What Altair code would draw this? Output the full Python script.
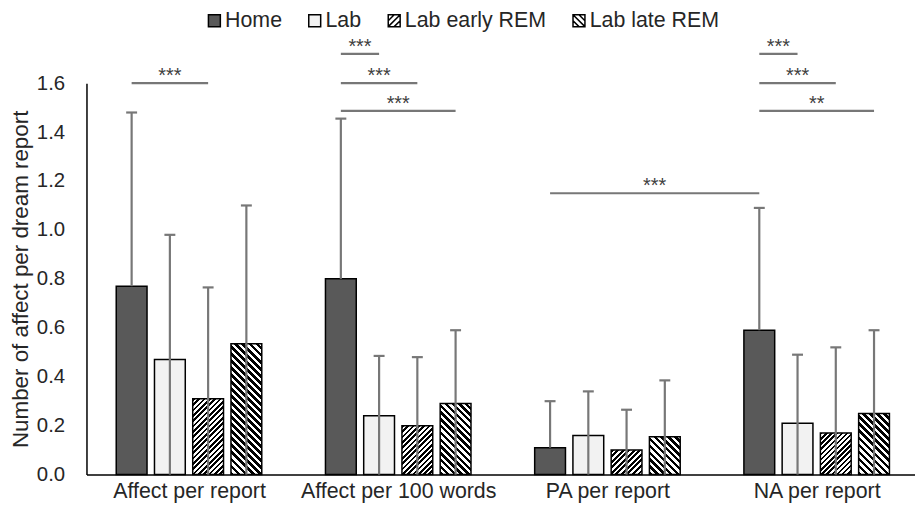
import json
import altair as alt
import pandas as pd

# ---------------- data ----------------
CATEGORIES = ["Affect per report", "Affect per 100 words", "PA per report", "NA per report"]
SERIES = ["Home", "Lab", "Lab early REM", "Lab late REM"]

HOME_MEAN = [0.77, 0.80, 0.11, 0.59]
HOME_SD = [0.71, 0.655, 0.19, 0.50]
LAB_MEAN = [0.47, 0.24, 0.16, 0.21]
LAB_SD = [0.51, 0.245, 0.18, 0.28]
EARLY_MEAN = [0.31, 0.20, 0.10, 0.17]
EARLY_SD = [0.455, 0.28, 0.165, 0.35]
LATE_MEAN = [0.535, 0.29, 0.155, 0.25]
LATE_SD = [0.565, 0.30, 0.23, 0.34]

Y_TICKS = [0.0, 0.2, 0.4, 0.6, 0.8, 1.0, 1.2, 1.4, 1.6]

# significance brackets
SIG_FROM_GROUP = [0, 1, 1, 1, 2, 3, 3, 3]
SIG_FROM_SERIES = [0, 0, 0, 0, 0, 0, 0, 0]
SIG_TO_GROUP = [0, 1, 1, 1, 3, 3, 3, 3]
SIG_TO_SERIES = [2, 1, 2, 3, 0, 1, 2, 3]
SIG_LEVEL = [1.60, 1.72, 1.60, 1.487, 1.15, 1.72, 1.60, 1.487]
SIG_LABEL = ["***", "***", "***", "***", "***", "***", "***", "**"]

# ---------------- layout / style ----------------
PLOT_W = 834
PLOT_H = 394
X_DOMAIN = [-0.49, 3.47]
Y_DOMAIN = [0, 1.6]
PX_PER_UNIT = PLOT_W / (X_DOMAIN[1] - X_DOMAIN[0])
SERIES_STEP = 38.5 / PX_PER_UNIT
BAR_HALF = 15.5 / PX_PER_UNIT
CAP_HALF = 5.5 / PX_PER_UNIT
FONT = "Liberation Sans"
TEXT_COLOR = "#262626"
HOME_FILL = "#595959"
LAB_FILL = "#f2f2f2"
ERR_COLOR = "#777777"

means = [HOME_MEAN, LAB_MEAN, EARLY_MEAN, LATE_MEAN]
sds = [HOME_SD, LAB_SD, EARLY_SD, LATE_SD]

rows = []
for s, name in enumerate(SERIES):
    for g, cat in enumerate(CATEGORIES):
        m = means[s][g]
        sd = sds[s][g]
        c = g + (s - 1.5) * SERIES_STEP
        lower = m if s == 0 else max(0.0, m - sd)
        rows.append({
            "g": g, "s": s, "series": name, "category": cat,
            "mean": m, "lower": lower, "upper": m + sd,
            "xc": c, "xl": c - BAR_HALF, "xr": c + BAR_HALF,
            "cl": c - CAP_HALF, "cr": c + CAP_HALF,
        })
df = pd.DataFrame(rows)


def center(g, s):
    return g + (s - 1.5) * SERIES_STEP


sig_rows = []
for i in range(len(SIG_LEVEL)):
    a = center(SIG_FROM_GROUP[i], SIG_FROM_SERIES[i])
    b = center(SIG_TO_GROUP[i], SIG_TO_SERIES[i])
    sig_rows.append({"x1": a, "x2": b, "xm": (a + b) / 2, "level": SIG_LEVEL[i], "label": SIG_LABEL[i]})
sig = pd.DataFrame(sig_rows)

x_axis = alt.Axis(
    values=[0, 1, 2, 3],
    labelExpr=json.dumps(CATEGORIES) + "[datum.value]",
    ticks=False, grid=False, title=None, domainColor="black", domainWidth=1.5,
    labelFont=FONT, labelFontSize=21.5, labelColor=TEXT_COLOR, labelPadding=6,
    labelFlush=False, labelOverlap=False, labelBound=False, labelLimit=0,
)
y_axis = alt.Axis(
    values=Y_TICKS, format=".1f", ticks=False, tickSize=0, grid=False,
    domainColor="black", domainWidth=1.5,
    labelFont=FONT, labelFontSize=20.5, labelColor=TEXT_COLOR, labelPadding=22,
    title="Number of affect per dream report", titleFont=FONT, titleFontSize=22.5,
    titleFontWeight="normal", titleColor=TEXT_COLOR, titlePadding=4, titleLimit=0,
)
xs = alt.Scale(domain=X_DOMAIN, nice=False, zero=False)
ys = alt.Scale(domain=Y_DOMAIN, nice=False, zero=True)


def X(field):
    return alt.X(field, scale=xs, axis=x_axis, title=None)


def Y(field):
    return alt.Y(field, scale=ys, axis=y_axis, title="Number of affect per dream report", stack=None)


def hatch(h_px, w_px, period, black_frac, direction):
    n = max(1, round((w_px + h_px) / period))
    k = (w_px + h_px) / (w_px ** 2 + h_px ** 2)
    p, q = k * w_px, k * h_px
    stops = []
    for i in range(n):
        a = round(i / n, 5)
        b = round((i + black_frac) / n, 5)
        c = round((i + 1) / n, 5)
        stops += [
            {"offset": a, "color": "black"}, {"offset": b, "color": "black"},
            {"offset": b, "color": "white"}, {"offset": c, "color": "white"},
        ]
    if direction == "/":
        return {"gradient": "linear", "x1": 0, "y1": 0, "x2": p, "y2": q, "stops": stops}
    return {"gradient": "linear", "x1": 0, "y1": 1, "x2": p, "y2": 1 - q, "stops": stops}


def bar_enc():
    return dict(x=X("xl:Q"), x2="xr:Q", y=Y("mean:Q"), y2=alt.datum(0))


layers = []
layers.append(
    alt.Chart(df).transform_filter("datum.s == 0")
    .mark_bar(fill=HOME_FILL, stroke="black", strokeWidth=1.5)
    .encode(**bar_enc())
)
layers.append(
    alt.Chart(df).transform_filter("datum.s == 1")
    .mark_bar(fill=LAB_FILL, stroke="black", strokeWidth=1.5)
    .encode(**bar_enc())
)
bar_w_px = 2 * BAR_HALF * PX_PER_UNIT
for s, period, frac, direction in [(2, 5.3, 0.5, "/"), (3, 7.0, 0.5, "\\")]:
    for g in range(len(CATEGORIES)):
        h_px = means[s][g] / Y_DOMAIN[1] * PLOT_H
        grad = hatch(h_px, bar_w_px, period, frac, direction)
        layers.append(
            alt.Chart(df).transform_filter(f"datum.s == {s} && datum.g == {g}")
            .mark_bar(fill=grad, stroke="black", strokeWidth=1.5)
            .encode(**bar_enc())
        )

# error bars
layers.append(
    alt.Chart(df).mark_rule(color=ERR_COLOR, strokeWidth=2.2).encode(
        x=X("xc:Q"), y=Y("lower:Q"), y2="upper:Q",
    )
)
layers.append(
    alt.Chart(df).mark_rule(color=ERR_COLOR, strokeWidth=2.2).encode(
        x=X("cl:Q"), x2="cr:Q", y=Y("upper:Q"),
    )
)

# significance brackets
layers.append(
    alt.Chart(sig).mark_rule(color=ERR_COLOR, strokeWidth=2.2).encode(
        x=X("x1:Q"), x2="x2:Q", y=Y("level:Q"),
    )
)
layers.append(
    alt.Chart(sig).mark_text(font=FONT, fontSize=20, color="#404040", baseline="alphabetic", dy=-1).encode(
        x=X("xm:Q"), y=Y("level:Q"), text="label:N",
    )
)

# legend (from explicit scale domains, no drawn points)
EARLY_PATH = "M-1,-1H1V1H-1Z M-1,0L0,-1 M-1,1L1,-1 M0,1L1,0"
LATE_PATH = "M-1,-1H1V1H-1Z M-1,0L0,1 M-1,-1L1,1 M0,-1L1,0"
legend = alt.Legend(
    title=None, orient="none", legendX=118, legendY=-74, direction="horizontal",
    labelFont=FONT, labelFontSize=21.5, labelColor=TEXT_COLOR, labelOffset=0,
    columnPadding=22, symbolSize=144, symbolStrokeColor="black", symbolStrokeWidth=1.5,
    padding=0,
)
layers.append(
    alt.Chart(df).transform_filter("datum.mean < 0")
    .mark_point(filled=True, size=144, strokeWidth=1.5, opacity=1)
    .encode(
        x=X("xc:Q"), y=Y("mean:Q"),
        fill=alt.Fill("series:N", scale=alt.Scale(domain=SERIES, range=[HOME_FILL, LAB_FILL, "white", "white"]), legend=legend),
        shape=alt.Shape("series:N", scale=alt.Scale(domain=SERIES, range=["square", "square", EARLY_PATH, LATE_PATH]), legend=legend),
        stroke=alt.Stroke("series:N", scale=alt.Scale(domain=SERIES, range=["black", "black", "black", "black"]), legend=legend),
    )
)

chart = alt.layer(*layers).properties(
    width=PLOT_W, height=PLOT_H,
    autosize=alt.AutoSizeParams(type="none"),
    padding={"left": 79, "top": 74, "right": 0, "bottom": 30},
    background="white",
).configure_view(stroke=None)

chart.save("out.html", embed_options={"renderer": "svg", "actions": False})
